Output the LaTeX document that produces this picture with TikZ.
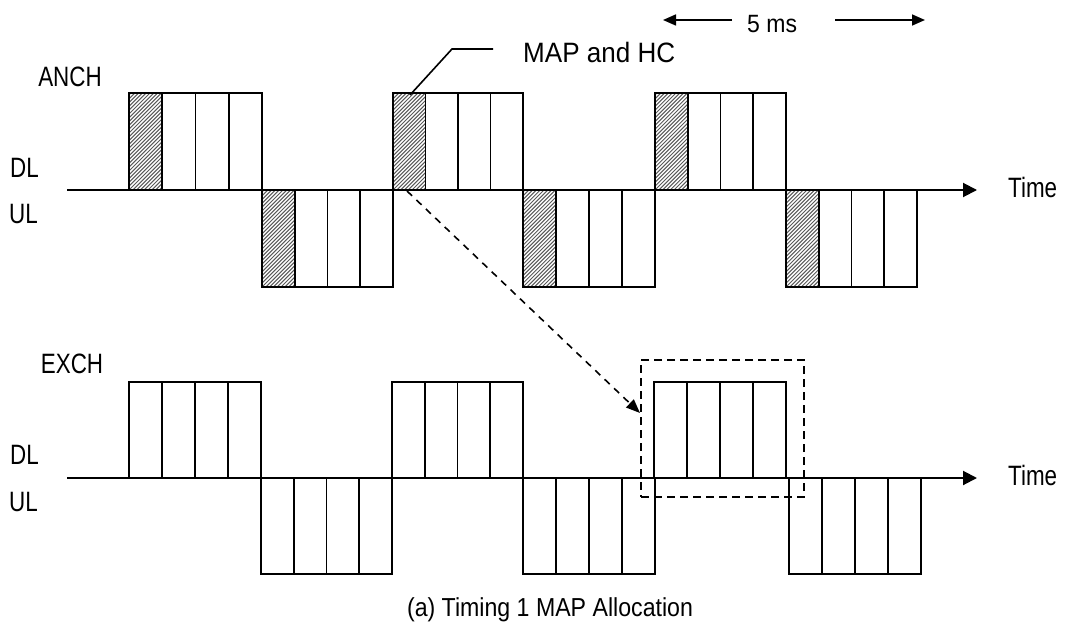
\documentclass[tikz,border=0pt]{standalone}
\usepackage{fontspec}
\setmainfont{Liberation Sans}
\newfontfamily\lblfont[FakeStretch=0.8]{Liberation Sans}
\newfontfamily\mapfont[FakeStretch=0.93]{Liberation Sans}
\newfontfamily\msfont[FakeStretch=0.92]{Liberation Sans}
\newfontfamily\capfont[FakeStretch=0.89]{Liberation Sans}
\usetikzlibrary{arrows.meta}
\newcommand\slotgroup[5]{% x0 x1 ytop ybot hatched
  \pgfmathsetmacro\gw{(#2-#1)/4}
  \ifnum#5=1
    \begin{scope}
      \clip (#1,#3) rectangle ({#1+\gw},#4);
      \foreach \k in {-30,...,10} \draw[hatchline] ({#1+\k*3.8},#4) -- ++(110,-110);
    \end{scope}
  \fi
  \foreach \i in {0,1,2,3} \draw[cellbox] ({#1+\i*\gw},#3) rectangle ({#1+(\i+1)*\gw},#4);
}
\begin{document}
\begin{tikzpicture}[x=1pt,y=-1pt,
  cellbox/.style={draw=black, line width=1.9pt},
  hatchline/.style={draw=black!65, line width=1pt},
  axisline/.style={line width=2pt, -{Triangle[length=14pt,width=14pt]}},
  msarrow/.style={line width=1.6pt, -{Triangle[length=13pt,width=11pt]}},
  dasharrow/.style={line width=1.6pt, dash pattern=on 7pt off 6pt, -{Triangle[length=14pt,width=11pt]}},
  dashbox/.style={draw, line width=1.6pt, dash pattern=on 8pt off 5pt, inner sep=0pt},
  leader/.style={line width=1.6pt},
  lbl/.style={inner sep=0pt, font=\lblfont\fontsize{28}{30}\selectfont},
  maplbl/.style={inner sep=0pt, font=\mapfont\fontsize{28}{30}\selectfont},
  mslbl/.style={inner sep=0pt, font=\msfont\fontsize{25}{27}\selectfont},
  caplbl/.style={inner sep=0pt, font=\capfont\fontsize{26}{28}\selectfont}]
\useasboundingbox (0,0) rectangle (1065,639);
\fill[white] (0,0) rectangle (1065,639);

% ---------- ANCH ----------
\slotgroup{129}{262}{93}{190}{1}
\slotgroup{262}{393}{190}{287}{1}
\slotgroup{393}{523}{93}{190}{1}
\slotgroup{523}{655}{190}{287}{1}
\slotgroup{655}{786}{93}{190}{1}
\slotgroup{786}{917}{190}{287}{1}
\coordinate (axA0) at (67,190);
\coordinate (axA1) at (977,190);
\draw[axisline] (axA0) -- (axA1);

% ---------- EXCH ----------
\slotgroup{129}{261}{382}{478}{0}
\slotgroup{261}{392}{478}{574}{0}
\slotgroup{392}{523}{382}{478}{0}
\slotgroup{523}{655}{478}{574}{0}
\slotgroup{654}{786}{382}{478}{0}
\slotgroup{789}{921}{478}{574}{0}
\coordinate (axE0) at (67,478);
\coordinate (axE1) at (977,478);
\draw[axisline] (axE0) -- (axE1);

% ---------- labels ----------
\node[lbl, anchor=base] (anch) at (70,87) {ANCH};
\node[lbl, anchor=base west] (dlA) at (10,178) {DL};
\node[lbl, anchor=base west] (ulA) at (9,223) {UL};
\node[lbl, anchor=base west] (timeA) at (1008,197) {Time};
\node[lbl, anchor=base] (exch) at (72,373) {EXCH};
\node[lbl, anchor=base west] (dlE) at (10,464) {DL};
\node[lbl, anchor=base west] (ulE) at (9,511) {UL};
\node[lbl, anchor=base west] (timeE) at (1008,485) {Time};

% MAP and HC callout
\node[maplbl, anchor=base west] (map) at (523,63) {MAP and HC};
\coordinate (ld0) at (410,95);
\coordinate (ld1) at (452,49);
\coordinate (ld2) at (493,49);
\draw[leader] (ld0) -- (ld1) -- (ld2);

% 5 ms
\node[mslbl, anchor=base west] (ms) at (747,33) {5 ms};
\coordinate (msL0) at (732,20);
\coordinate (msL1) at (663,20);
\coordinate (msR0) at (835,20);
\coordinate (msR1) at (925,20);
\draw[msarrow] (msL0) -- (msL1);
\draw[msarrow] (msR0) -- (msR1);

% selected frame + dashed arrow
\node[dashbox, minimum width=163pt, minimum height=137pt] (sel) at (722.5,428.5) {};
\coordinate (src) at (407,191);
\coordinate (tgt) at (640,413);
\draw[dasharrow] (src) -- (tgt);

% caption
\node[caplbl, anchor=base] (cap) at (550,616) {(a) Timing 1 MAP Allocation};
\end{tikzpicture}
\end{document}
